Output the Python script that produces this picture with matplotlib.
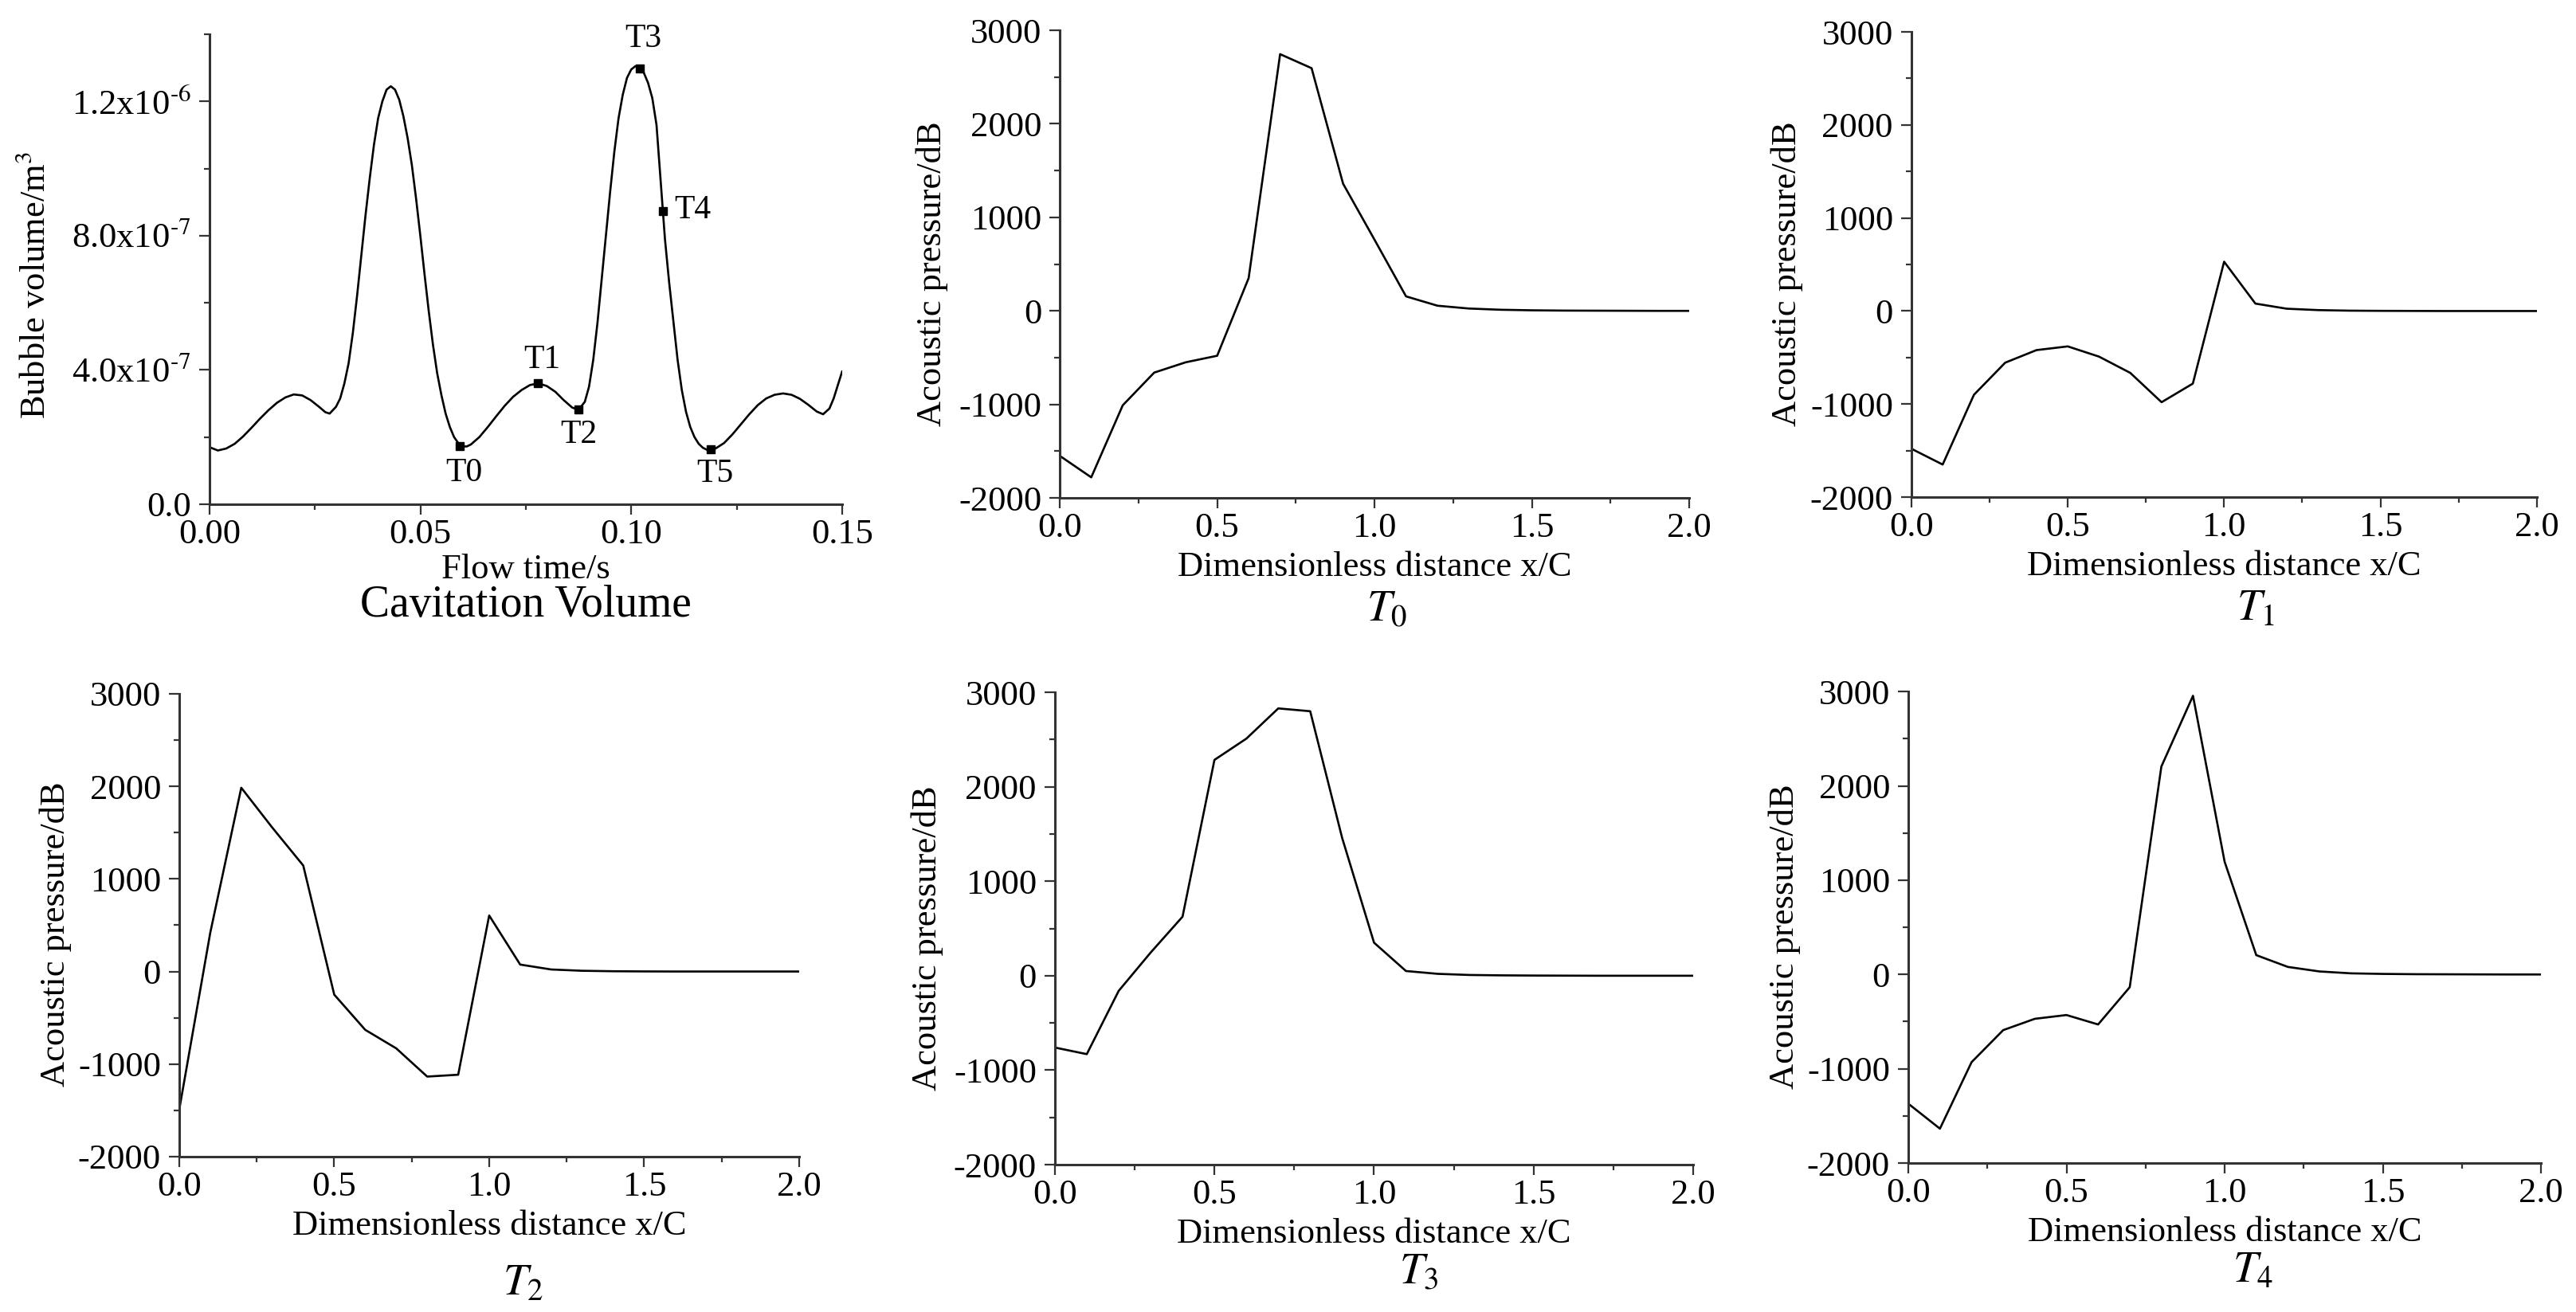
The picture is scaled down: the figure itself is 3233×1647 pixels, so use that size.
import numpy as np
import matplotlib.pyplot as plt
from matplotlib.ticker import MultipleLocator
from matplotlib.transforms import offset_copy

plt.rcParams['font.family'] = 'serif'
plt.rcParams['font.serif'] = ['Liberation Serif', 'DejaVu Serif']
plt.rcParams['mathtext.fontset'] = 'stix'
plt.rcParams['axes.unicode_minus'] = False

# cavitation volume history (volume in units of 1e-7 m^3)
flow_time = [0.000, 0.002, 0.004, 0.006, 0.008, 0.010, 0.012, 0.014, 0.016, 0.018,
             0.020, 0.022, 0.024, 0.026, 0.0275, 0.0285, 0.030, 0.031, 0.032, 0.033,
             0.034, 0.035, 0.036, 0.037, 0.038, 0.039, 0.040, 0.041, 0.042, 0.043,
             0.044, 0.045, 0.046, 0.047, 0.048, 0.049, 0.050, 0.051, 0.052, 0.053,
             0.054, 0.055, 0.056, 0.057, 0.058, 0.059, 0.060, 0.061, 0.062, 0.064,
             0.066, 0.068, 0.070, 0.072, 0.074, 0.076, 0.078, 0.080, 0.082, 0.084,
             0.086, 0.0875, 0.089, 0.090, 0.091, 0.092, 0.093, 0.094, 0.095, 0.096,
             0.097, 0.098, 0.099, 0.100, 0.101, 0.102, 0.103, 0.104, 0.105, 0.106,
             0.107, 0.1075, 0.108, 0.109, 0.110, 0.111, 0.112, 0.113, 0.114, 0.115,
             0.116, 0.117, 0.118, 0.119, 0.120, 0.122, 0.124, 0.126, 0.128, 0.130,
             0.132, 0.134, 0.136, 0.138, 0.140, 0.142, 0.144, 0.1455, 0.147, 0.148,
             0.149, 0.150]
bubble_vol = [1.70, 1.60, 1.66, 1.80, 2.02, 2.28, 2.55, 2.80, 3.02, 3.18,
              3.27, 3.24, 3.10, 2.90, 2.74, 2.70, 2.90, 3.15, 3.60, 4.20,
              5.10, 6.20, 7.40, 8.60, 9.70, 10.7, 11.5, 12.0, 12.35, 12.45,
              12.35, 12.05, 11.55, 10.9, 10.1, 9.1, 8.0, 6.85, 5.75, 4.75,
              3.9, 3.25, 2.7, 2.3, 2.0, 1.82, 1.72, 1.72, 1.78, 2.00,
              2.30, 2.62, 2.93, 3.20, 3.40, 3.55, 3.60, 3.52, 3.35, 3.10,
              2.88, 2.81, 3.05, 3.50, 4.30, 5.40, 6.70, 8.00, 9.30, 10.5,
              11.5, 12.2, 12.7, 12.95, 13.05, 13.0, 12.85, 12.55, 12.1, 11.3,
              9.6, 8.75, 7.9, 6.6, 5.45, 4.3, 3.4, 2.75, 2.3, 2.0,
              1.8, 1.68, 1.62, 1.62, 1.66, 1.82, 2.08, 2.38, 2.68, 2.95,
              3.15, 3.26, 3.30, 3.26, 3.14, 2.96, 2.76, 2.68, 2.85, 3.15,
              3.55, 3.95]

mark_names = ['T0', 'T1', 'T2', 'T3', 'T4', 'T5']
mark_time = [0.0594, 0.0779, 0.0875, 0.1021, 0.1075, 0.1189]
mark_vol = [1.73, 3.61, 2.82, 12.98, 8.73, 1.64]

vol_ticks = [0, 4, 8, 12]
vol_ticklabels = ['0.0', r'4.0x10$^{\text{-}7}$', r'8.0x10$^{\text{-}7}$', r'1.2x10$^{\text{-}6}$']
time_ticks = [0.00, 0.05, 0.10, 0.15]
time_ticklabels = ['0.00', '0.05', '0.10', '0.15']

# acoustic pressure along the chord
x_dist = [0.0, 0.1, 0.2, 0.3, 0.4, 0.5, 0.6, 0.7, 0.8, 0.9, 1.0,
          1.1, 1.2, 1.3, 1.4, 1.5, 1.6, 1.7, 1.8, 1.9, 2.0]
p_T0 = [-1550, -1780, -1010, -660, -550, -480, 350, 2745, 2595, 1360, 760,
        155, 55, 25, 12, 6, 3, 2, 1, 0, 0]
p_T1 = [-1480, -1650, -900, -555, -420, -380, -490, -665, -980, -780, 530,
        80, 25, 10, 4, 2, 1, 0, 0, 0, 0]
p_T2 = [-1490, 420, 1985, 1555, 1145, -250, -630, -830, -1135, -1115, 605,
        75, 22, 8, 3, 1, 0, 0, 0, 0, 0]
p_T3 = [-760, -830, -160, 245, 625, 2285, 2510, 2830, 2800, 1460, 350,
        50, 20, 8, 4, 2, 1, 0, 0, 0, 0]
p_T4 = [-1370, -1635, -930, -590, -470, -430, -530, -135, 2205, 2955, 1195,
        205, 80, 32, 12, 6, 3, 2, 1, 0, 0]
dist_ticks = [0.0, 0.5, 1.0, 1.5, 2.0]
pres_ticks = [-2000, -1000, 0, 1000, 2000, 3000]

AX_COL = '#333333'
FS = 32


def style_axes(ax):
    for s in ['top', 'right']:
        ax.spines[s].set_visible(False)
    for s in ['left', 'bottom']:
        ax.spines[s].set_linewidth(2.2)
        ax.spines[s].set_color(AX_COL)
    ax.tick_params(which='major', direction='out', length=9.5, width=1.6,
                   colors=AX_COL, labelcolor='black', labelsize=FS)
    ax.tick_params(which='minor', direction='out', length=5, width=1.6, colors=AX_COL)
    ax.tick_params(axis='y', which='major', pad=7)


def text_below(ax, s, dy, size, xf=0.5):
    tr = offset_copy(ax.transAxes, fig=fig, x=0, y=-dy, units='dots')
    ax.text(xf, 0, s, transform=tr, ha='center', va='center', fontsize=size)


def ylabel_left(ax, s, dx, yf=0.48):
    tr = offset_copy(ax.transAxes, fig=fig, x=-dx, y=0, units='dots')
    ax.text(0, yf, s, transform=tr, ha='center', va='center', rotation=90, fontsize=FS)


fig = plt.figure(figsize=(32.33, 16.47), dpi=100)

# --- cavitation volume panel
ax0 = fig.add_axes([0.0813, 0.6157, 0.2456, 0.3582])
ax0.plot(flow_time, bubble_vol, color='black', lw=1.9)
ax0.plot(mark_time, mark_vol, 's', color='black', ms=7.5)
label_off = {'T0': (4, -24), 'T1': (4, 21), 'T2': (0, -23),
             'T3': (3, 27), 'T4': (27, 1), 'T5': (4, -22)}
for name, t, v in zip(mark_names, mark_time, mark_vol):
    ax0.annotate(name, (t, v), xytext=label_off[name], textcoords='offset points',
                 ha='center', va='center', fontsize=30)
ax0.set_xlim(0, 0.15)
ax0.set_ylim(0, 14)
ax0.set_xticks(time_ticks)
ax0.set_xticklabels(time_ticklabels)
ax0.set_yticks(vol_ticks)
ax0.set_yticklabels(vol_ticklabels)
ax0.xaxis.set_minor_locator(MultipleLocator(0.025))
ax0.yaxis.set_minor_locator(MultipleLocator(2))
style_axes(ax0)
text_below(ax0, 'Flow time/s', 82, FS)
text_below(ax0, 'Cavitation Volume', 127, 40)
ylabel_left(ax0, r'Bubble volume/m$^3$', 218, 0.466)

# --- acoustic pressure panels
panels = [
    (p_T0, r'$T_0$', [0.4114, 0.6205, 0.2444, 0.3564], 140, 0.52, 160),
    (p_T1, r'$T_1$', [0.7420, 0.6211, 0.2428, 0.3546], 140, 0.55, 156),
    (p_T2, r'$T_2$', [0.0696, 0.1184, 0.2406, 0.3528], 160, 0.555, 155),
    (p_T3, r'$T_3$', [0.4095, 0.1123, 0.2478, 0.3600], 135, 0.57, 160),
    (p_T4, r'$T_4$', [0.7408, 0.1135, 0.2456, 0.3594], 135, 0.545, 155),
]
for vals, cap, rect, cap_dy, cap_x, ylab_dx in panels:
    ax = fig.add_axes(rect)
    ax.plot(x_dist, vals, color='black', lw=1.9)
    ax.set_xlim(0, 2.0)
    ax.set_ylim(-2000, 3000)
    ax.set_xticks(dist_ticks)
    ax.set_yticks(pres_ticks)
    ax.xaxis.set_minor_locator(MultipleLocator(0.25))
    ax.yaxis.set_minor_locator(MultipleLocator(500))
    style_axes(ax)
    text_below(ax, 'Dimensionless distance x/C', 87, FS)
    text_below(ax, cap, cap_dy, 40, cap_x)
    ylabel_left(ax, 'Acoustic pressure/dB', ylab_dx)

fig.savefig('out.png', dpi=100)
